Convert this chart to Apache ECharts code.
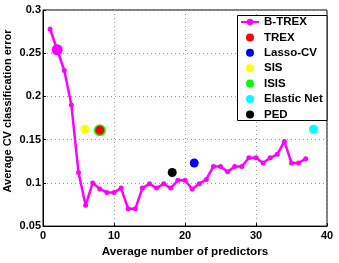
<!DOCTYPE html>
<html>
<head>
<meta charset="utf-8">
<script src="https://cdn.jsdelivr.net/npm/echarts@6/dist/echarts.min.js"></script>
<style>html,body{margin:0;padding:0;background:#fff;}#c{width:339px;height:263px;}</style>
</head>
<body>
<div id="c"></div>
<script>
var xTicks = [0, 10, 20, 30, 40];
var yTicks = [0.05, 0.1, 0.15, 0.2, 0.25, 0.3];
var btrexX = [1,2,3,4,5,6,7,8,9,10,11,12,13,14,15,16,17,18,19,20,21,22,23,24,25,26,27,28,29,30,31,32,33,34,35,36,37];
var btrexY = [0.278,0.254,0.230,0.190,0.112,0.074,0.100,0.093,0.089,0.089,0.094,0.070,0.070,0.094,0.099,0.094,0.099,0.094,0.103,0.103,0.093,0.099,0.104,0.119,0.119,0.113,0.119,0.119,0.129,0.129,0.123,0.129,0.133,0.148,0.123,0.123,0.128];
var highlightIndex = 1;
var methods = ['TREX','Lasso-CV','SIS','ISIS','Elastic Net','PED'];
var methodX = [8.0, 21.3, 5.9, 8.0, 38.1, 18.2];
var methodY = [0.161, 0.123, 0.162, 0.161, 0.162, 0.112];
var methodColors = ['#ff0000','#0000ff','#ffff00','#00ff00','#00ffff','#000000'];

var chart = echarts.init(document.getElementById('c'));
var font = '"Liberation Sans", Arial, sans-serif';
var series = [{
  name: 'B-TREX', type: 'line',
  data: btrexX.map(function(x, i){
    var d = {value: [x, btrexY[i]]};
    if (i === highlightIndex) d.symbolSize = 11;
    return d;
  }),
  symbol: 'circle', symbolSize: 5,
  lineStyle: {color: '#ff00ff', width: 2.5},
  itemStyle: {color: '#ff00ff'},
  z: 3
}];
methods.forEach(function(m, i){
  series.push({
    name: m, type: 'scatter',
    data: [[methodX[i], methodY[i]]],
    symbol: 'circle',
    symbolSize: m === 'ISIS' ? 12 : 9,
    itemStyle: {color: methodColors[i], opacity: 1},
    z: m === 'TREX' ? 6 : 4
  });
});

chart.setOption({
  animation: false,
  backgroundColor: '#fff',
  grid: {left: 43, right: 12, top: 10, bottom: 29, show: true, borderColor: '#000', borderWidth: 1},
  xAxis: {
    type: 'value', min: xTicks[0], max: xTicks[xTicks.length-1], interval: 10,
    name: 'Average number of predictors', nameLocation: 'middle', nameGap: 15,
    nameTextStyle: {fontFamily: font, fontWeight: 'bold', fontSize: 11.7, color: '#000'},
    axisLine: {lineStyle: {color: '#000', width: 1}},
    axisTick: {inside: true, length: 3, lineStyle: {color: '#000'}},
    axisLabel: {fontFamily: font, fontWeight: 'bold', fontSize: 11, color: '#000', margin: 4},
    splitLine: {show: true, lineStyle: {type: [1, 3], color: '#999', width: 1}}
  },
  yAxis: {
    type: 'value', min: yTicks[0], max: yTicks[yTicks.length-1], interval: 0.05,
    axisLine: {show: true, lineStyle: {color: '#000', width: 1}},
    axisTick: {show: true, inside: true, length: 3, lineStyle: {color: '#000'}},
    axisLabel: {fontFamily: font, fontWeight: 'bold', fontSize: 11, color: '#000', margin: 2,
      formatter: function(v){ return String(Math.round(v*100)/100); }},
    splitLine: {show: true, lineStyle: {type: [1, 3], color: '#999', width: 1}}
  },
  legend: {
    orient: 'vertical', left: 240, top: 15,
    padding: [1, 0, 0, 0],
    itemWidth: 18, itemHeight: 8, itemGap: 3.4,
    textStyle: {fontFamily: font, fontWeight: 'bold', fontSize: 11.5, color: '#000', lineHeight: 12},
    data: [{name: 'B-TREX'}].concat(methods.map(function(m){ return {name: m, icon: 'circle'}; }))
  },
  graphic: [
    {type: 'rect', shape: {x: 237.5, y: 15.5, width: 89.5, height: 105}, style: {fill: '#fff', stroke: '#000', lineWidth: 1}, z: 1, zlevel: 0},
    {type: 'text', x: 8, y: 111, rotation: Math.PI/2,
      style: {text: 'Average CV classification error', font: 'bold 11px ' + font, fill: '#000', textAlign: 'center', textVerticalAlign: 'middle'}}
  ],
  series: series
});
</script>
</body>
</html>
